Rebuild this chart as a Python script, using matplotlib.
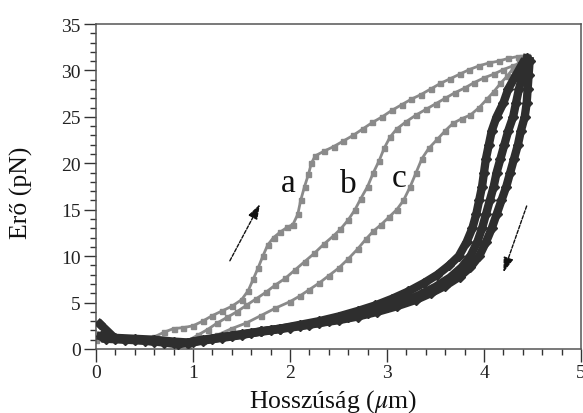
import matplotlib
matplotlib.use("Agg")
import matplotlib.pyplot as plt
from matplotlib.ticker import MultipleLocator

plt.rcParams['font.family'] = ['Liberation Serif', 'DejaVu Serif']
plt.rcParams['mathtext.fontset'] = 'stix'

# ---- data (x in µm, force in pN) ----
# loading curves (gray)
a_x = [0.00, 0.15, 0.30, 0.45, 0.60, 0.70, 0.80, 0.90, 1.00, 1.10, 1.20, 1.30, 1.40, 1.50,
       1.57, 1.62, 1.67, 1.72, 1.77, 1.83, 1.90, 1.97, 2.03, 2.08, 2.11, 2.15, 2.19, 2.22,
       2.26, 2.35, 2.45, 2.55, 2.65, 2.75, 2.85, 2.95, 3.05, 3.15, 3.25, 3.35, 3.45, 3.55,
       3.65, 3.75, 3.85, 3.95, 4.05, 4.15, 4.25, 4.35, 4.44]
a_y = [1.0, 1.3, 1.0, 1.1, 1.3, 1.8, 2.2, 2.3, 2.5, 3.0, 3.6, 4.1, 4.6, 5.3,
       6.3, 7.5, 8.7, 10.0, 11.2, 12.0, 12.6, 13.1, 13.4, 14.5, 16.0, 17.5, 18.8, 20.0,
       20.8, 21.3, 21.8, 22.4, 23.0, 23.7, 24.4, 25.0, 25.7, 26.3, 26.9, 27.4, 28.0, 28.6,
       29.1, 29.6, 30.1, 30.5, 30.8, 31.0, 31.3, 31.5, 31.6]

b_x = [0.85, 0.95, 1.05, 1.15, 1.25, 1.35, 1.45, 1.55, 1.65, 1.75, 1.85, 1.95, 2.05, 2.15,
       2.25, 2.35, 2.45, 2.52, 2.60, 2.67, 2.73, 2.80, 2.86, 2.92, 2.97, 3.03, 3.10, 3.20,
       3.30, 3.40, 3.50, 3.60, 3.70, 3.80, 3.90, 4.00, 4.10, 4.20, 4.30, 4.40]
b_y = [0.5, 0.9, 1.5, 2.1, 2.8, 3.4, 4.0, 4.7, 5.4, 6.1, 6.9, 7.6, 8.5, 9.4,
       10.3, 11.3, 12.2, 12.9, 13.9, 15.0, 16.2, 17.5, 19.0, 20.3, 21.6, 22.8, 23.7, 24.5,
       25.2, 25.8, 26.4, 27.0, 27.6, 28.1, 28.7, 29.2, 29.6, 30.1, 30.5, 30.9]

c_x = [0.95, 1.10, 1.25, 1.40, 1.55, 1.70, 1.85, 2.00, 2.10, 2.20, 2.30, 2.40, 2.50, 2.60,
       2.70, 2.78, 2.86, 2.94, 3.02, 3.10, 3.17, 3.24, 3.30, 3.36, 3.43, 3.52, 3.60, 3.68,
       3.77, 3.86, 3.95, 4.03, 4.10, 4.17, 4.24, 4.30, 4.36]
c_y = [0.4, 0.9, 1.5, 2.2, 2.8, 3.6, 4.4, 5.1, 5.7, 6.4, 7.1, 7.9, 8.7, 9.7,
       10.8, 11.8, 12.7, 13.4, 14.2, 15.0, 16.0, 17.5, 19.0, 20.5, 21.6, 22.6, 23.5, 24.3,
       24.8, 25.2, 26.0, 26.9, 27.7, 28.6, 29.4, 30.2, 30.8]

# unloading curves (dark)
d1_x = [4.47, 4.46, 4.45, 4.44, 4.42, 4.38, 4.35, 4.31, 4.27, 4.23, 4.18, 4.13, 4.08, 4.02,
        3.95, 3.86, 3.75, 3.60, 3.45, 3.30, 3.10, 2.90, 2.70, 2.50, 2.30, 2.10, 1.90, 1.70,
        1.50, 1.30, 1.10, 0.95, 0.80, 0.60, 0.40, 0.20, 0.05]
d1_y = [31.0, 29.5, 28.0, 26.5, 25.0, 23.5, 22.0, 20.5, 19.0, 17.5, 16.0, 14.5, 13.0, 11.5,
        10.0, 8.8, 7.8, 6.8, 6.0, 5.3, 4.6, 4.0, 3.5, 3.1, 2.8, 2.5, 2.2, 1.9,
        1.6, 1.3, 1.0, 0.7, 0.8, 1.0, 1.1, 1.2, 1.4]

d2_x = [4.44, 4.40, 4.36, 4.33, 4.30, 4.25, 4.21, 4.17, 4.13, 4.10, 4.06, 4.02, 3.98, 3.93,
        3.86, 3.77, 3.65, 3.50, 3.35, 3.20, 3.00, 2.80, 2.60, 2.40, 2.20, 2.00, 1.80, 1.60,
        1.40, 1.20, 1.00, 0.85, 0.70, 0.50, 0.30, 0.10]
d2_y = [31.3, 29.5, 28.0, 26.5, 25.0, 23.5, 22.0, 20.5, 19.0, 17.5, 16.0, 14.5, 13.0, 11.5,
        10.0, 8.8, 7.7, 6.7, 5.9, 5.2, 4.5, 3.9, 3.4, 3.0, 2.6, 2.3, 2.0, 1.7,
        1.4, 1.1, 0.8, 0.5, 0.7, 0.9, 1.0, 1.1]

d3_x = [4.40, 4.33, 4.25, 4.20, 4.13, 4.08, 4.05, 4.02, 4.00, 3.98, 3.95, 3.92, 3.88, 3.82,
        3.74, 3.64, 3.52, 3.38, 3.22, 3.05, 2.88, 2.70, 2.50, 2.30, 2.10, 1.90, 1.70, 1.50,
        1.30, 1.10, 0.95, 0.80, 0.60, 0.40, 0.20, 0.04]
d3_y = [30.8, 29.5, 28.0, 26.5, 25.0, 23.5, 22.0, 20.5, 19.0, 17.5, 16.0, 14.5, 13.0, 11.5,
        10.0, 9.0, 8.0, 7.1, 6.2, 5.4, 4.7, 4.1, 3.5, 3.0, 2.6, 2.2, 1.9, 1.5,
        1.2, 0.9, 0.6, 0.7, 0.8, 1.0, 1.1, 2.7]

curve_labels = ['a', 'b', 'c']
label_x = [1.985, 2.60, 3.12]
label_y = [17.0, 16.9, 17.5]

x_ticks = [0, 1, 2, 3, 4, 5]
y_ticks = [0, 5, 10, 15, 20, 25, 30, 35]

# ---- figure ----
fig = plt.figure(figsize=(5.83, 4.14), dpi=100)
ax = fig.add_axes([96 / 583, 1 - 350 / 414, (581 - 96) / 583, (350 - 25) / 414])

gray = '#8a8a8a'
dark = '#2e2e2e'
for xs, ys in [(a_x, a_y), (b_x, b_y), (c_x, c_y)]:
    ax.plot(xs, ys, '-', color=gray, lw=2.0, marker='s', ms=3.6, mec=gray, mfc=gray, zorder=2)
for xs, ys in [(d1_x, d1_y), (d2_x, d2_y), (d3_x, d3_y)]:
    ax.plot(xs, ys, '-', color=dark, lw=6.0, marker='D', ms=5.4, mec=dark, mfc=dark, zorder=3)

for t, x, y in zip(curve_labels, label_x, label_y):
    ax.text(x, y, t, fontsize=24, ha='center', va='baseline', color='#111111')

arrow_kw = dict(arrowstyle='-|>,head_length=0.9,head_width=0.3', color='#111111',
                lw=1.0, linestyle=(0, (2.5, 1.2)), shrinkA=0, shrinkB=0)
ax.annotate('', xy=(1.69, 15.6), xytext=(1.38, 9.5), arrowprops=arrow_kw)
ax.annotate('', xy=(4.20, 8.25), xytext=(4.44, 15.4), arrowprops=arrow_kw)

ax.set_xlim(0, 5)
ax.set_ylim(0, 35)
ax.set_xticks(x_ticks)
ax.set_yticks(y_ticks)
ax.xaxis.set_minor_locator(MultipleLocator(0.2))
ax.yaxis.set_minor_locator(MultipleLocator(1))
ax.tick_params(which='major', direction='out', length=9, width=1.0, labelsize=14,
               pad=2, colors='#333333', labelcolor='#222222')
ax.tick_params(which='minor', direction='out', length=4, width=1.0, colors='#333333')
ax.tick_params(top=False, right=False, which='both')

for s in ax.spines.values():
    s.set_linewidth(1.1)
    s.set_color('#555555')

ax.set_xlabel('Hosszúság ($\\mu$m)', fontsize=18.5, color='#111111')
ax.set_ylabel('Erő (pN)', fontsize=18.5, color='#111111')
ax.xaxis.set_label_coords(0.489, -0.118)
ax.yaxis.set_label_coords(-0.13, 0.483)

fig.savefig('out.png', dpi=100)
